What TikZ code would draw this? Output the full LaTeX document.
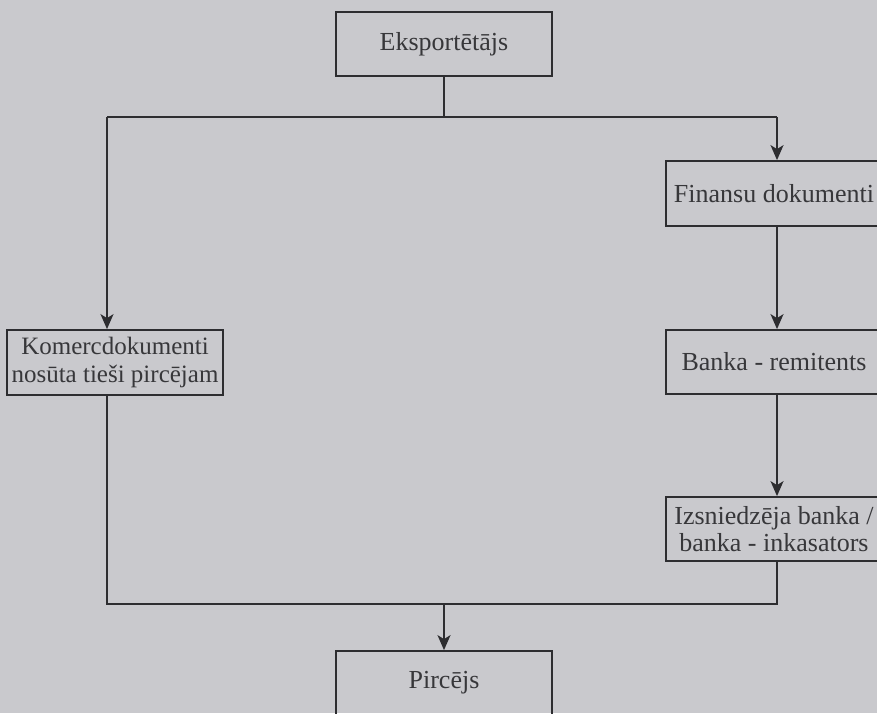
\documentclass[tikz,border=0pt]{standalone}
\usepackage{fontspec}
\setmainfont{Liberation Serif}
\usetikzlibrary{arrows.meta}
\definecolor{paper}{RGB}{201,201,205}
\definecolor{ink}{RGB}{45,45,48}
\definecolor{txt}{RGB}{55,55,58}
\begin{document}
\begin{tikzpicture}[x=1pt,y=-1pt,
  boxnode/.style={draw=ink,line width=1.8pt,inner sep=0pt,align=center,
    text=txt,font=\fontsize{26}{27.5}\selectfont},
  link/.style={draw=ink,line width=1.8pt},
  arr/.style={link,-{Stealth[length=15pt,width=13pt,inset=4pt]}}]
\fill[paper] (0,0) rectangle (877,713);
\useasboundingbox (0,0) rectangle (877,713);
\clip (0,0) rectangle (877,713);
\node[boxnode,minimum width=216,minimum height=64] (eks) at (444,44) {Eksportētājs};
\node[boxnode,minimum width=216,minimum height=65] (fin) at (774,193.5) {Finansu dokumenti};
\node[boxnode,minimum width=216,minimum height=65,font=\fontsize{25}{27.5}\selectfont] (kom) at (115,362.5) {Komercdokumenti\\nosūta tieši pircējam};
\node[boxnode,minimum width=216,minimum height=64] (rem) at (774,362) {Banka - remitents};
\node[boxnode,minimum width=216,minimum height=64] (izs) at (774,529) {Izsniedzēja banka /\\banka - inkasators};
\node[boxnode,minimum width=216,minimum height=64] (pir) at (444,683) {Pircējs};
\coordinate (j1) at (444,117);
\coordinate (tl) at (107,117);
\coordinate (tr) at (777,117);
\coordinate (bl) at (107,604);
\coordinate (br) at (777,604);
\coordinate (bm) at (444,604);
\draw[link] (eks.south) -- (j1);
\draw[link] (tl) -- (tr);
\draw[arr] (tl) -- (tl |- kom.north);
\draw[arr] (tr) -- (tr |- fin.north);
\draw[arr] (tr |- fin.south) -- (tr |- rem.north);
\draw[arr] (tr |- rem.south) -- (tr |- izs.north);
\draw[link] (tl |- kom.south) -- (bl) -- (br) -- (tr |- izs.south);
\draw[arr] (bm) -- (pir.north);
\end{tikzpicture}
\end{document}
